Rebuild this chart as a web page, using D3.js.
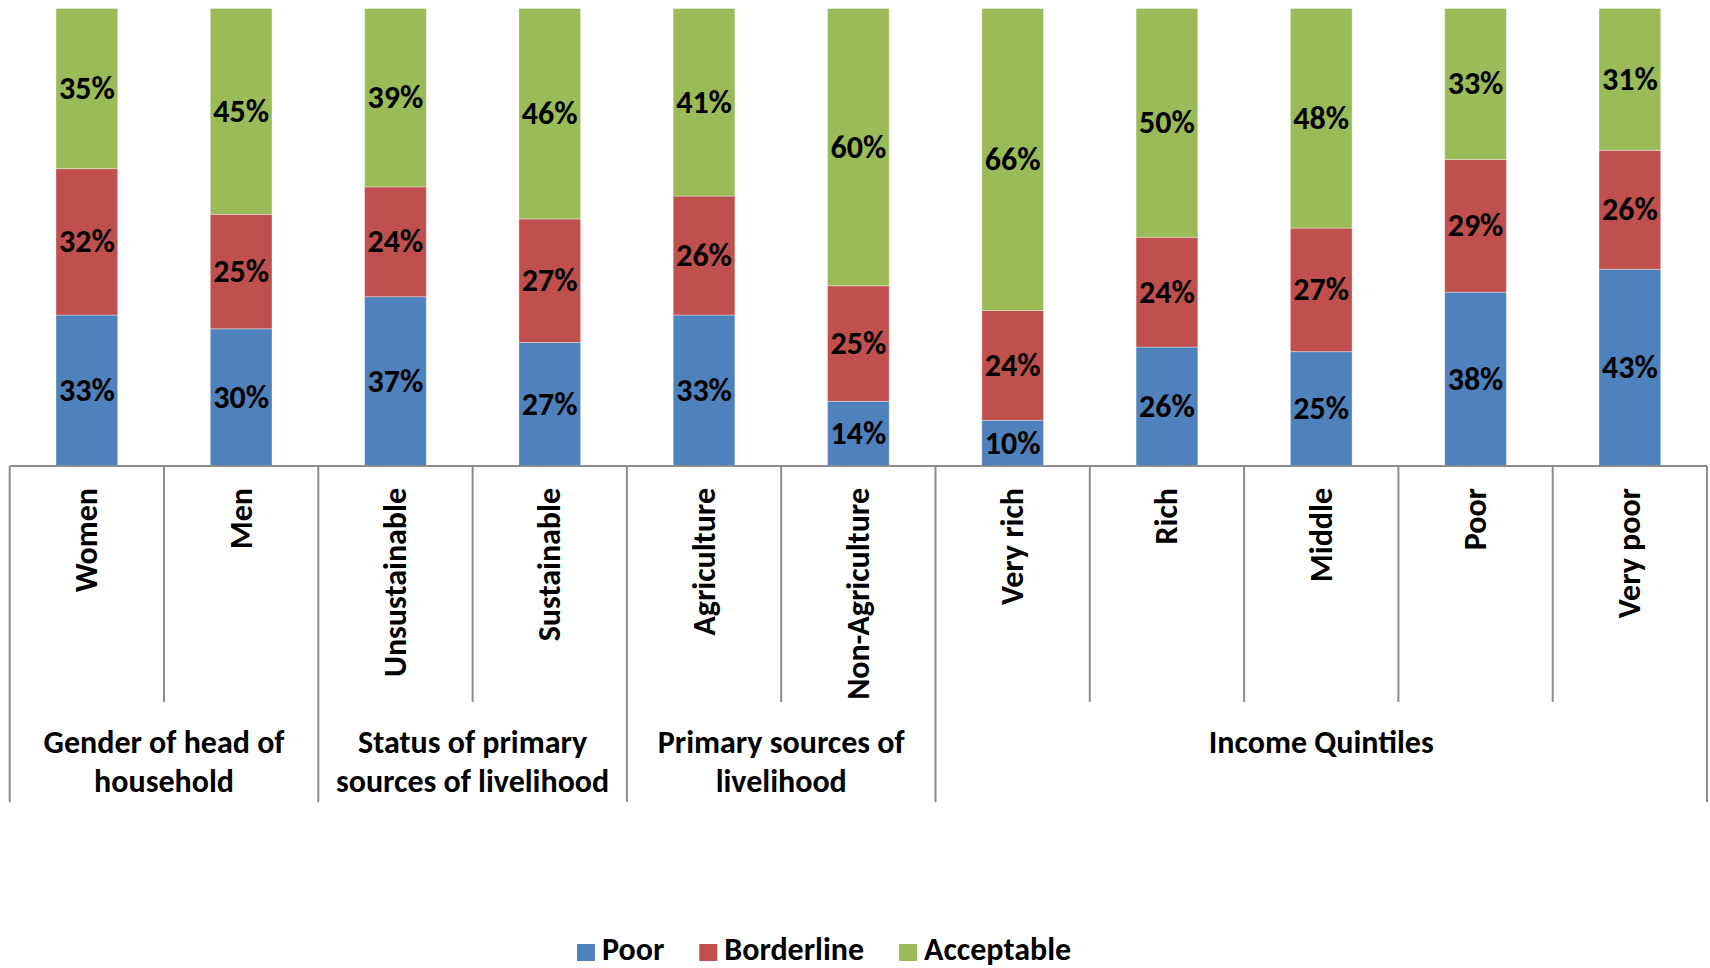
<!DOCTYPE html>
<html>
<head>
<meta charset="utf-8">
<script src="https://cdn.jsdelivr.net/npm/d3@7"></script>
<style>
  html, body { margin: 0; padding: 0; background: #fff; overflow: hidden; }
  svg { display: block; }
  text { font-family: Carlito, Calibri, Lato, sans-serif; font-weight: bold; fill: #000; }
</style>
</head>
<body>
<svg id="chart" width="1710" height="968"></svg>
<script>
// ---- data ----
const categories = ["Women", "Men", "Unsustainable", "Sustainable", "Agriculture", "Non-Agriculture",
                    "Very rich", "Rich", "Middle", "Poor", "Very poor"];
const groups = [
  { name: ["Gender of head of", "household"], size: 2 },
  { name: ["Status of primary", "sources of livelihood"], size: 2 },
  { name: ["Primary sources of", "livelihood"], size: 2 },
  { name: ["Income Quintiles"], size: 5 }
];
const seriesNames = ["Poor", "Borderline", "Acceptable"];
const poor       = [33, 30, 37, 27, 33, 14, 10, 26, 25, 38, 43];
const borderline = [32, 25, 24, 27, 26, 25, 24, 24, 27, 29, 26];
const acceptable = [35, 45, 39, 46, 41, 60, 66, 50, 48, 33, 31];
const colors = ["#4F81BD", "#C0504D", "#9BBB59"];

// ---- layout ----
const svg = d3.select("#chart");
const axisY = 466, topY = 8.5;
const left = 9.7, right = 1707;
const fs = 32;

const table = categories.map((c, i) => ({ cat: c, Poor: poor[i], Borderline: borderline[i], Acceptable: acceptable[i] }));
const stack = d3.stack().keys(seriesNames).offset(d3.stackOffsetExpand);
const stacked = stack(table);

const x = d3.scaleBand().domain(categories).range([left, right]).padding(0);
const y = d3.scaleLinear().domain([0, 1]).range([axisY, topY]);
const barW = x.bandwidth() * 0.4;
const color = d3.scaleOrdinal().domain(seriesNames).range(colors);

const layers = svg.append("g").selectAll("g").data(stacked).join("g")
  .attr("fill", d => color(d.key));
layers.selectAll("rect").data(d => d).join("rect")
  .attr("x", d => x(d.data.cat) + (x.bandwidth() - barW) / 2)
  .attr("width", barW)
  .attr("y", d => y(d[1]))
  .attr("height", d => y(d[0]) - y(d[1]))
  .attr("stroke", "rgba(255,255,255,0.35)")
  .attr("stroke-width", 1);

// data labels
const raw = { Poor: poor, Borderline: borderline, Acceptable: acceptable };
stacked.forEach(layer => {
  svg.append("g").selectAll("text").data(layer).join("text")
    .attr("x", d => x(d.data.cat) + x.bandwidth() / 2)
    .attr("y", d => (y(d[0]) + y(d[1])) / 2)
    .attr("text-anchor", "middle")
    .attr("dominant-baseline", "central")
    .attr("font-size", fs)
    .text((d, i) => raw[layer.key][i] + "%");
});

// axis
const lineColor = "#8c8c8c";
const ax = svg.append("g").attr("stroke", lineColor).attr("stroke-width", 2);
ax.append("line").attr("x1", left).attr("x2", right).attr("y1", axisY).attr("y2", axisY);
const innerBottom = 702, groupBottom = 802;
let idx = 0;
const groupEdges = [0];
groups.forEach(g => { idx += g.size; groupEdges.push(idx); });
const edgeX = i => i < categories.length ? x(categories[i]) : x(categories[categories.length - 1]) + x.bandwidth();
for (let i = 0; i <= categories.length; i++) {
  const isGroup = groupEdges.includes(i);
  ax.append("line").attr("x1", edgeX(i)).attr("x2", edgeX(i))
    .attr("y1", axisY).attr("y2", isGroup ? groupBottom : innerBottom);
}

// category labels (rotated)
svg.append("g").selectAll("text").data(categories).join("text")
  .attr("transform", d => `translate(${x(d) + x.bandwidth() / 2},488) rotate(-90)`)
  .attr("text-anchor", "end")
  .attr("dominant-baseline", "central")
  .attr("font-size", fs)
  .text(d => d);

// group labels
idx = 0;
groups.forEach(g => {
  const x0 = edgeX(idx), x1 = edgeX(idx + g.size);
  idx += g.size;
  const t = svg.append("text").attr("text-anchor", "middle").attr("font-size", fs)
    .attr("x", (x0 + x1) / 2).attr("y", 753);
  g.name.forEach((line, k) => {
    t.append("tspan").attr("x", (x0 + x1) / 2).attr("y", 753 + k * 39).text(line);
  });
});

// legend
const lg = svg.append("g");
let lx = 577;
seriesNames.forEach((s, i) => {
  lg.append("rect").attr("x", lx).attr("y", 944).attr("width", 18).attr("height", 17).attr("fill", colors[i]);
  const t = lg.append("text").attr("x", lx + 25).attr("y", 960).attr("font-size", fs).text(s);
  const w = t.node().getComputedTextLength();
  lx += 25 + w + 35;
});
</script>
</body>
</html>
